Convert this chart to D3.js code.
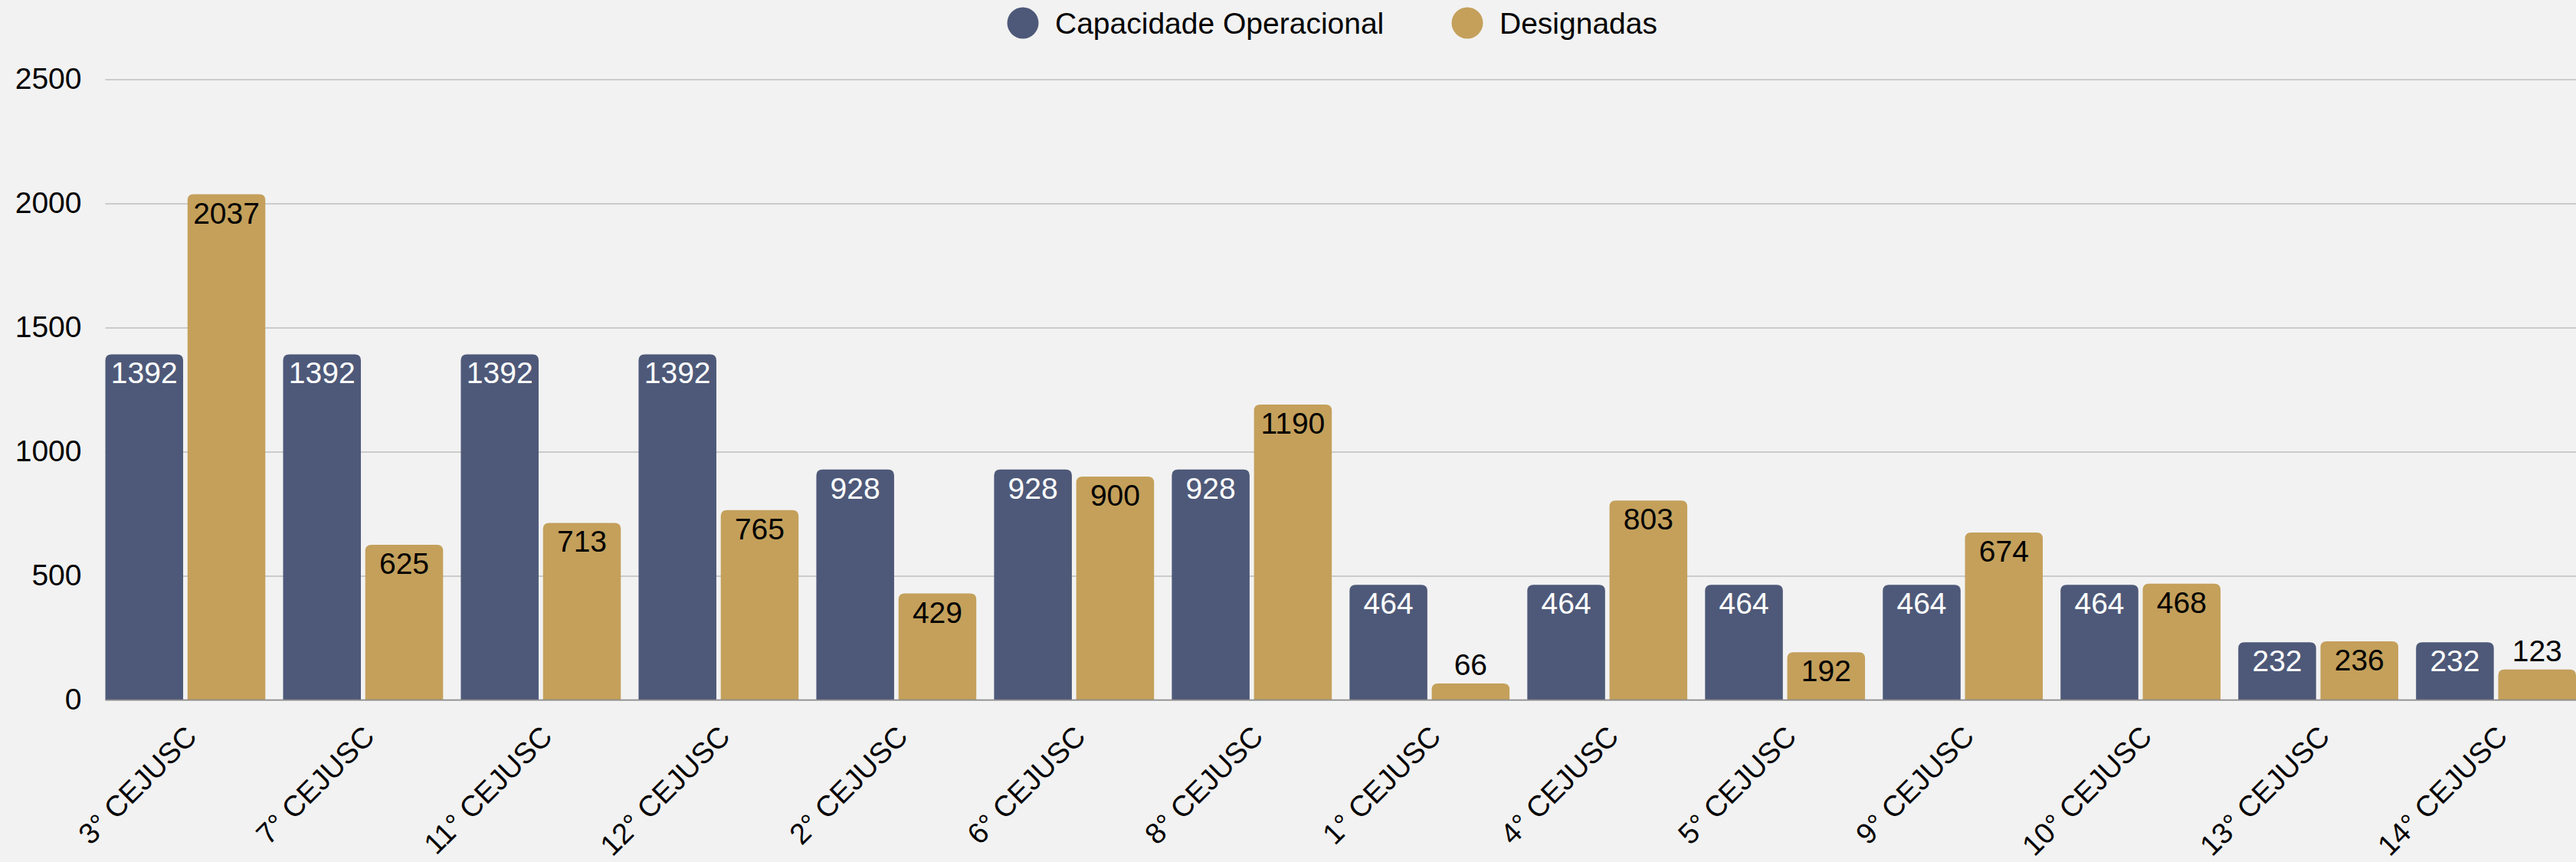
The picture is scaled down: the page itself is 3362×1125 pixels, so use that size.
<!DOCTYPE html>
<html>
<head>
<meta charset="utf-8">
<script src="https://cdn.jsdelivr.net/npm/d3@7"></script>
<style>
  html, body { margin: 0; padding: 0; background: #F2F2F2; }
  svg { display: block; }
  text { font-family: "Liberation Sans", Arial, Helvetica, sans-serif; }
</style>
</head>
<body>
<div id="chart"></div>
<script>
const categories = ["3° CEJUSC","7° CEJUSC","11° CEJUSC","12° CEJUSC","2° CEJUSC","6° CEJUSC","8° CEJUSC","1° CEJUSC","4° CEJUSC","5° CEJUSC","9° CEJUSC","10° CEJUSC","13° CEJUSC","14° CEJUSC"];
const seriesNames = ["Capacidade Operacional", "Designadas"];
const capacidade = [1392,1392,1392,1392,928,928,928,464,464,464,464,464,232,232];
const designadas = [2037,625,713,765,429,900,1190,66,803,192,674,468,236,123];
const yTicks = [0, 500, 1000, 1500, 2000, 2500];
const colors = ["#4E5979", "#C4A05B"];
const labelColors = ["#FFFFFF", "#000000"];

const W = 3362, H = 1125;
const mLeft = 137.5, mRight = 3362, mTop = 103.5, mBottom = 913.5;

const svg = d3.select("#chart").append("svg").attr("width", W).attr("height", H);
svg.append("rect").attr("width", W).attr("height", H).attr("fill", "#F2F2F2");

const x0 = d3.scaleBand().domain(categories).range([mLeft, mRight]).paddingInner(0.1).paddingOuter(0);
const innerGap = 5.6;
const x1 = d3.scaleBand().domain(seriesNames).range([0, x0.bandwidth()]).paddingInner(innerGap / (x0.bandwidth() / 2));
const y = d3.scaleLinear().domain([0, 2500]).range([mBottom, mTop]);

// grid + y axis
const yAxis = svg.append("g").attr("transform", `translate(${mLeft},0)`)
  .call(d3.axisLeft(y).tickValues(yTicks).tickSize(-(mRight - mLeft)).tickPadding(31).tickFormat(d3.format("d")));
yAxis.select(".domain").remove();
yAxis.selectAll(".tick line").attr("stroke", "#BEBEBE").attr("stroke-width", 1.5);
yAxis.selectAll(".tick text").attr("font-size", 39).attr("fill", "#000").attr("font-family", "'Liberation Sans', Arial, sans-serif");

const data = categories.map((c, i) => ({ cat: c, vals: [capacidade[i], designadas[i]] }));

function topRounded(xp, yp, w, h, r) {
  r = Math.min(r, h, w / 2);
  return `M${xp},${yp + h}V${yp + r}Q${xp},${yp} ${xp + r},${yp}H${xp + w - r}Q${xp + w},${yp} ${xp + w},${yp + r}V${yp + h}Z`;
}

const groups = svg.append("g").selectAll("g").data(data).join("g")
  .attr("transform", d => `translate(${x0(d.cat)},0)`);

groups.selectAll("path").data(d => d.vals.map((v, k) => ({ v, k, s: seriesNames[k] }))).join("path")
  .attr("d", d => topRounded(x1(d.s), y(d.v), x1.bandwidth(), mBottom - y(d.v), 8))
  .attr("fill", d => colors[d.k]);

groups.selectAll("text.val").data(d => d.vals.map((v, k) => ({ v, k, s: seriesNames[k] }))).join("text")
  .attr("class", "val")
  .attr("x", d => x1(d.s) + x1.bandwidth() / 2)
  .attr("y", d => (mBottom - y(d.v) >= 50) ? y(d.v) + 38 : y(d.v) - 11)
  .attr("text-anchor", "middle")
  .attr("font-size", 39)
  .attr("fill", d => (mBottom - y(d.v) >= 50) ? labelColors[d.k] : "#000")
  .text(d => d.v);

// baseline
svg.append("line").attr("x1", mLeft).attr("x2", mRight).attr("y1", mBottom).attr("y2", mBottom)
  .attr("stroke", "#8C8C8C").attr("stroke-width", 1.5);

// x axis labels
const xAxis = svg.append("g").attr("transform", `translate(0,${mBottom})`)
  .call(d3.axisBottom(x0).tickSize(0).tickPadding(0));
xAxis.select(".domain").remove();
xAxis.selectAll(".tick text")
  .attr("font-size", 38)
  .attr("fill", "#000")
  .attr("font-family", "'Liberation Sans', Arial, sans-serif")
  .attr("text-anchor", "end")
  .attr("dy", 0)
  .attr("y", 0)
  .attr("transform", "translate(17,50) rotate(-45)");

// legend
const legendItems = [
  { name: seriesNames[0], color: colors[0], cx: 1335 },
  { name: seriesNames[1], color: colors[1], cx: 1915 }
];
const lg = svg.append("g");
legendItems.forEach(it => {
  lg.append("circle").attr("cx", it.cx).attr("cy", 30).attr("r", 20.5).attr("fill", it.color);
  lg.append("text").attr("x", it.cx + 42).attr("y", 44).attr("font-size", 39).attr("fill", "#000").text(it.name);
});
</script>
</body>
</html>
